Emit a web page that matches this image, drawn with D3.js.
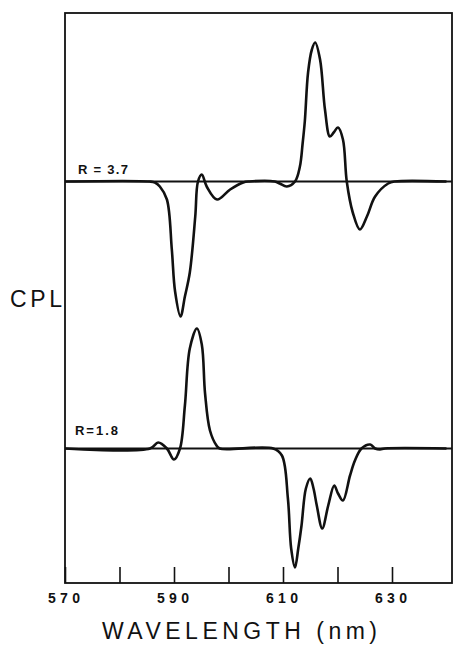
<!DOCTYPE html>
<html>
<head>
<meta charset="utf-8">
<script src="https://cdn.jsdelivr.net/npm/d3@7"></script>
<style>
body{margin:0;background:#fff;}
text{font-family:"Liberation Sans","DejaVu Sans",sans-serif;fill:#111;}
</style>
</head>
<body>
<svg id="chart" width="460" height="645"></svg>
<script>
// wavelength (nm) / CPL (arb. units)
var wl_r37 = [570,585.5,586.5,587.4,588.7,589.6,590.2,591.2,592.0,592.9,593.9,594.4,595.1,596.0,597.9,600.3,602.7,603.8,608.5,609.4,610.7,612.2,613.1,613.6,614.0,614.6,615.3,615.9,616.8,617.7,618.6,619.3,620.1,621.0,621.7,622.8,624.1,625.4,626.9,629.3,630.5,640];
var cpl_r37 = [0,0,-1,-5,-18,-68,-110,-135,-115,-91,-35,0,7,-5,-18,-8,-1,0,0,-2,-5,0,15,38,60,109,132,139,122,72,45,49,54,42,0,-31,-48,-35,-15,-2,0,0];

var wl_r18 = [570,585.6,587.1,588.7,590.0,591.1,592.0,592.9,594.2,595.1,595.7,596.6,597.8,598.4,608.2,609.8,610.9,611.5,612.2,612.8,613.4,614.2,615.0,615.6,616.2,617.2,618.3,619.4,620.1,621.0,622.3,623.2,624.4,626.0,626.9,627.8,628.7,640];
var cpl_r18 = [0,0,6,0,-11,0,43,100,120,104,55,18,3,0,0,-7,-50,-100,-119,-100,-77,-40,-30,-40,-57,-80,-57,-37,-45,-52,-27,-12,0,4,0,-1,0,0];

var tick_values = [570,580,590,600,610,620,630];
var tick_labels = ["570","","590","","610","","630"];

var spectra = [
    {label:"R = 3.7", wl:wl_r37, cpl:cpl_r37, base:181.5, lx:78, ly:174, lw:50},
    {label:"R=1.8", wl:wl_r18, cpl:cpl_r18, base:448.5, lx:75, ly:435, lw:43}
];

var frame = {left:65, right:452, top:13, bottom:583};

var svg = d3.select("#chart");

var x = d3.scaleLinear().domain([570,640]).range([65,446.5]);

// outer box
svg.append("rect")
    .attr("x",frame.left).attr("y",frame.top)
    .attr("width",frame.right-frame.left).attr("height",frame.bottom-frame.top)
    .attr("fill","none").attr("stroke","#111").attr("stroke-width",1.8);

// bottom axis, ticks pointing up
var xAxis = d3.axisTop(x).tickValues(tick_values).tickSize(16).tickFormat("");
var ax = svg.append("g").attr("transform","translate(0,"+frame.bottom+")").call(xAxis);
ax.select(".domain").remove();
ax.selectAll(".tick line").attr("stroke","#111").attr("stroke-width",1.6);

svg.selectAll(".ticklab").data(tick_values.filter(function(d,i){return tick_labels[i]!=="";}))
    .join("text").attr("class","ticklab")
    .attr("x",function(d){return x(d)-1;})
    .attr("y",603)
    .attr("text-anchor","middle")
    .attr("font-size",14).attr("font-weight","bold")
    .attr("textLength",32).attr("lengthAdjust","spacing")
    .text(function(d){return tick_labels[tick_values.indexOf(d)];});

spectra.forEach(function(s){
    var y = d3.scaleLinear().domain([-150,150]).range([s.base+150,s.base-150]);

    svg.append("line")
        .attr("x1",frame.left).attr("x2",frame.right)
        .attr("y1",s.base).attr("y2",s.base)
        .attr("stroke","#111").attr("stroke-width",1.8);

    var line = d3.line()
        .x(function(d,i){return x(s.wl[i]);})
        .y(function(d){return y(d);})
        .curve(d3.curveCatmullRom.alpha(0.5));

    svg.append("path").datum(s.cpl)
        .attr("d",line)
        .attr("fill","none").attr("stroke","#111")
        .attr("stroke-width",2.6).attr("stroke-linejoin","round");

    svg.append("text")
        .attr("x",s.lx).attr("y",s.ly)
        .attr("font-size",13).attr("font-weight","bold")
        .attr("textLength",s.lw).attr("lengthAdjust","spacing")
        .text(s.label);
});

svg.append("text")
    .attr("x",10).attr("y",307)
    .attr("font-size",23)
    .attr("textLength",52).attr("lengthAdjust","spacing")
    .text("CPL");

svg.append("text")
    .attr("x",102).attr("y",639)
    .attr("font-size",23)
    .attr("textLength",275).attr("lengthAdjust","spacing")
    .text("WAVELENGTH (nm)");
</script>
</body>
</html>
